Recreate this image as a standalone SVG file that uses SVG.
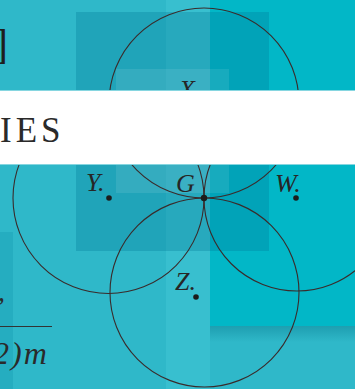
<svg xmlns="http://www.w3.org/2000/svg" width="355" height="389" viewBox="0 0 355 389">
  <defs>
    <linearGradient id="shadowB" x1="0" y1="0" x2="0" y2="1">
      <stop offset="0" stop-color="#0a7f92" stop-opacity="0.45"/>
      <stop offset="1" stop-color="#0a7f92" stop-opacity="0"/>
    </linearGradient>
    <linearGradient id="shadowL" x1="1" y1="0" x2="0" y2="0">
      <stop offset="0" stop-color="#0a7f92" stop-opacity="0.25"/>
      <stop offset="1" stop-color="#0a7f92" stop-opacity="0"/>
    </linearGradient>
    <style>
      .circ { fill: none; stroke: #3a2b2b; stroke-width: 1.1; }
      .pt { fill: #1c1c1c; }
      .lbl { font-family: "Liberation Serif", "DejaVu Serif", serif; font-style: italic; font-size: 26px; fill: #262626; }
      .dark { fill: #007896; opacity: 0.3; }
    </style>
  </defs>

  <!-- background -->
  <g id="background">
    <rect x="0" y="0" width="355" height="389" fill="#2fb8c9"/>
    <rect x="0" y="232" width="13" height="157" fill="#25adc0"/>
    <rect x="200" y="190" width="10" height="136" fill="url(#shadowL)"/>
    <rect x="210" y="0" width="145" height="326" fill="#02b7c7"/>
    <rect x="166" y="0" width="44" height="389" fill="#38bfcf"/>
    <rect x="210" y="326" width="145" height="16" fill="url(#shadowB)"/>
    <rect class="dark" x="76" y="12" width="193" height="239"/>
    <rect x="116" y="69" width="113" height="124" fill="#ffffff" opacity="0.09"/>
  </g>

  <!-- figure -->
  <g id="node-X">
    <circle class="circ" cx="204" cy="103" r="95"/>
    <circle class="pt" cx="204" cy="103" r="2.8"/>
    <text class="lbl" x="179" y="98">X</text>
  </g>
  <g id="node-Y">
    <circle class="circ" cx="108.5" cy="198" r="95.5"/>
    <circle class="pt" cx="109" cy="198" r="2.8"/>
    <text class="lbl" x="86" y="191">Y.</text>
  </g>
  <g id="node-W">
    <circle class="circ" cx="297" cy="198" r="93"/>
    <circle class="pt" cx="296" cy="198" r="2.8"/>
    <text class="lbl" x="275" y="192">W.</text>
  </g>
  <g id="node-Z">
    <circle class="circ" cx="204.5" cy="292.5" r="94.5"/>
    <circle class="pt" cx="196" cy="297" r="2.8"/>
    <text class="lbl" x="175" y="290">Z.</text>
  </g>
  <g id="node-G">
    <circle class="pt" cx="204" cy="198" r="3.2"/>
    <text class="lbl" x="176" y="192">G</text>
  </g>
  <g id="connectors"></g>

  <!-- white title band -->
  <g id="band">
    <rect x="0" y="90" width="355" height="75" fill="#86d6e0"/>
    <rect x="0" y="91" width="355" height="73" fill="#ffffff"/>
    <text x="0" y="142" font-family="Liberation Serif, DejaVu Serif, serif" font-size="35" letter-spacing="4" fill="#2a2a2a">IES</text>
  </g>

  <!-- cropped edge texts -->
  <g id="edge-text">
    <text x="-6" y="58" font-family="Liberation Serif, DejaVu Serif, serif" font-size="42" fill="#1e1e1e">]</text>
    <text x="-2" y="301" font-family="Liberation Serif, DejaVu Serif, serif" font-style="italic" font-size="28" fill="#2a2a2a">,</text>
    <line x1="0" y1="326.5" x2="52" y2="326.5" stroke="#333333" stroke-width="1.2"/>
    <text x="-7" y="364" font-family="Liberation Serif, DejaVu Serif, serif" font-style="italic" font-size="32" letter-spacing="2" fill="#2a2a2a">2)m</text>
  </g>
</svg>
